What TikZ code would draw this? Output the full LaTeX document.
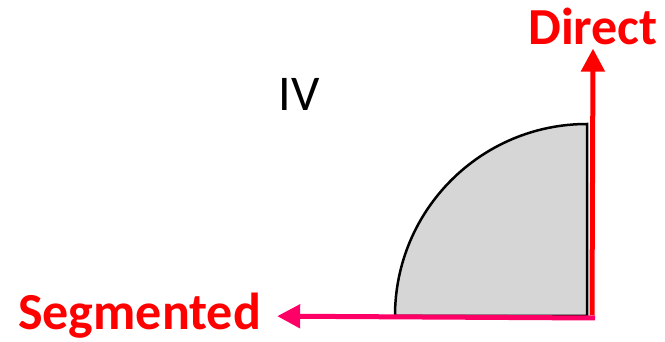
\documentclass[tikz,border=0pt]{standalone}
\usepackage{fontspec}
\setmainfont{Carlito}
\usepackage{xcolor}
\usepackage{tikz}
\usetikzlibrary{arrows.meta,positioning}
\definecolor{AxisRed}{HTML}{FF0000}
\definecolor{AxisPink}{HTML}{FF0066}
\definecolor{AreaGrey}{HTML}{D6D6D6}
\tikzset{
  axislabel/.style={font=\fontsize{52}{58}\selectfont\bfseries,text=AxisRed,inner sep=0pt},
  quadlabel/.style={font=\fontsize{50}{56}\selectfont,inner sep=0pt},
  axis/.style={-{Triangle[length=23pt,width=23pt]},line width=5pt},
  area/.style={draw=black,line width=2.5pt,fill=AreaGrey}
}
\begin{document}
\begin{tikzpicture}[x=1pt,y=-1pt]
  \useasboundingbox (0,0) rectangle (665,342);
  \coordinate (origin) at (592,318);
  \coordinate (corner) at (587,316);
  \node[axislabel,anchor=base] (direct) at (593,45) {Direct};
  \node[axislabel,anchor=base west] (segmented) at (18,330) {Segmented};
  \node[quadlabel] (quadrant) at (299,94) {IV};
  % shaded quarter disc
  \draw[area] (corner) -- ++(-192,0) arc[start angle=180,end angle=90,radius=192pt] -- cycle;
  \draw[axis,draw=AxisPink] ([xshift=3pt]origin) -- ([xshift=16pt]segmented.east);
  \draw[axis,draw=AxisRed] ([yshift=3pt]origin) -- ([yshift=-3pt]direct.south);
\end{tikzpicture}
\end{document}
